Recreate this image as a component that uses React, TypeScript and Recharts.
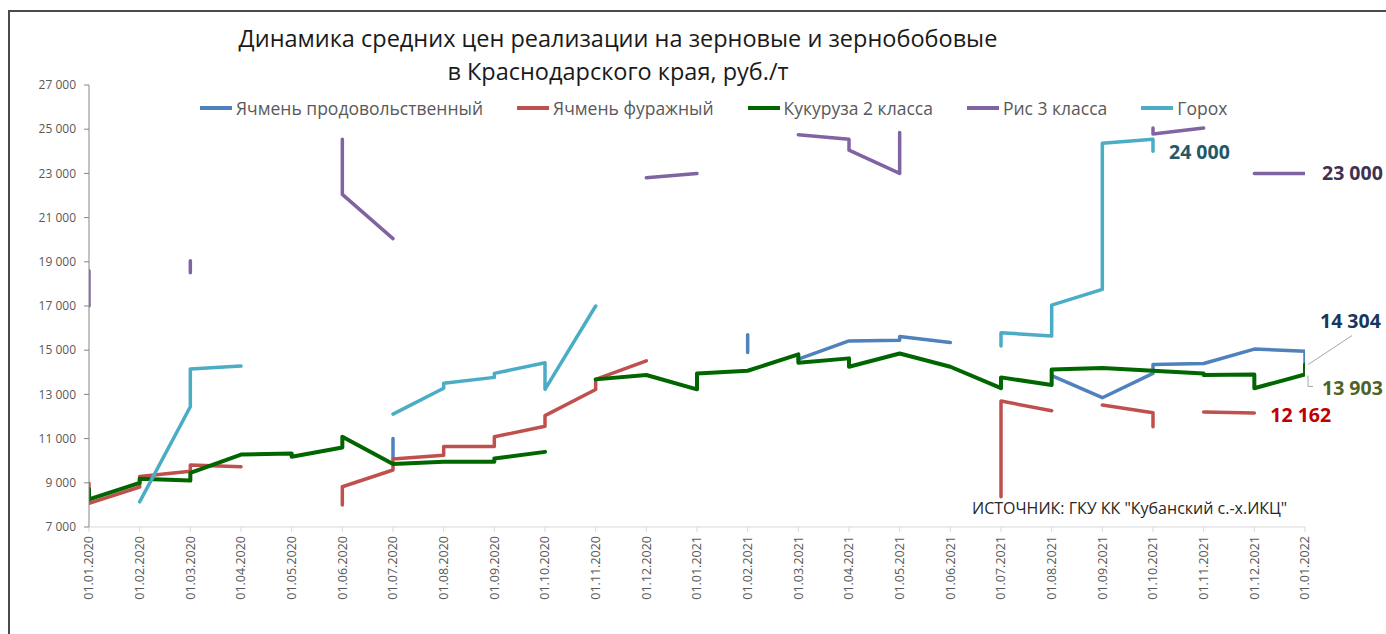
import React from 'react';
import { LineChart, Line, XAxis, YAxis } from 'recharts';

type Pt = [number, number | null];

// x = month index from 01.01.2020, several points in one month stack vertically
const MONTH_LABELS = [
  '01.01.2020', '01.02.2020', '01.03.2020', '01.04.2020', '01.05.2020', '01.06.2020',
  '01.07.2020', '01.08.2020', '01.09.2020', '01.10.2020', '01.11.2020', '01.12.2020',
  '01.01.2021', '01.02.2021', '01.03.2021', '01.04.2021', '01.05.2021', '01.06.2021',
  '01.07.2021', '01.08.2021', '01.09.2021', '01.10.2021', '01.11.2021', '01.12.2021',
  '01.01.2022',
];
const MONTH_TICKS = MONTH_LABELS.map((_, i) => i);
const Y_TICKS = [7000, 9000, 11000, 13000, 15000, 17000, 19000, 21000, 23000, 25000, 27000];

const barleyFood: Pt[] = [
  [6, 11000], [6, 10100], [6, null],
  [13, 15700], [13, 14900], [13, null],
  [14, 14600], [15, 15420], [16, 15450], [16, 15620], [17, 15350], [17, null],
  [19, 13850], [20, 12850], [21, 13950], [21, 14350], [22, 14400], [23, 15050], [24, 14950], [24, 14304],
];

const barleyFeed: Pt[] = [
  [0, 8980], [0, 8070], [1, 8810], [1, 9290], [2, 9520], [2, 9800], [3, 9730], [3, null],
  [5, 8000], [5, 8820], [6, 9580], [6, 10080], [7, 10250], [7, 10640], [8, 10640], [8, 11080],
  [9, 11560], [9, 12040], [10, 13220], [10, 13680], [11, 14520], [11, null],
  [18, 8370], [18, 12700], [19, 12260], [19, null],
  [20, 12520], [21, 12170], [21, 11540], [21, null],
  [22, 12200], [23, 12162],
];

const corn: Pt[] = [
  [0, 8720], [0, 8250], [1, 9000], [1, 9180], [2, 9100], [2, 9450], [3, 10280], [4, 10330], [4, 10180],
  [5, 10600], [5, 11080], [6, 9850], [7, 9950], [8, 9950], [8, 10100], [9, 10400], [9, null],
  [10, 13680], [11, 13880], [12, 13230], [12, 13950], [13, 14070], [14, 14810], [14, 14430],
  [15, 14630], [15, 14250], [16, 14850], [17, 14250], [18, 13280], [18, 13770], [19, 13430], [19, 14130],
  [20, 14200], [21, 14070], [22, 13950], [22, 13880], [23, 13900], [23, 13280],
  [24, 13903], [24, 14350], [24, 13903],
];

const rice: Pt[] = [
  [0, 18600], [0, 17000], [0, null],
  [2, 19050], [2, 18500], [2, null],
  [5, 24550], [5, 22050], [6, 20050], [6, null],
  [11, 22800], [12, 23000], [12, null],
  [14, 24750], [15, 24550], [15, 24050], [16, 23000], [16, 24850], [16, null],
  [21, 25050], [21, 24780], [22, 25050], [22, null],
  [23, 23000], [24, 23000],
];

const peas: Pt[] = [
  [1, 8140], [2, 12440], [2, 14150], [3, 14280], [3, null],
  [6, 12110], [7, 13280], [7, 13500], [8, 13770], [8, 13950], [9, 14430], [9, 13230], [10, 17000], [10, null],
  [18, 15190], [18, 15790], [19, 15640], [19, 17040], [20, 17750], [20, 24360], [21, 24540], [21, 24000],
];

const FONT = "'Open Sans', sans-serif";

const fmt = (v: number) => String(v).replace(/\B(?=(\d{3})+(?!\d))/g, ' ');

interface EndLabelCfg {
  color: string;
  dx: number;
  dy: number;
  leader?: 'up' | 'bracket';
}

const SERIES: { name: string; color: string; width: number; points: Pt[]; end: EndLabelCfg | null }[] = [
  { name: 'Ячмень продовольственный', color: '#4F81BD', width: 3.5, points: barleyFood, end: { color: '#17375E', dx: 15, dy: -44, leader: 'up' } },
  { name: 'Ячмень фуражный', color: '#C0504D', width: 3.5, points: barleyFeed, end: { color: '#C00000', dx: 16, dy: 2 } },
  { name: 'Кукуруза 2 класса', color: '#006600', width: 4, points: corn, end: { color: '#4F6228', dx: 17, dy: 14, leader: 'bracket' } },
  { name: 'Рис 3 класса', color: '#8064A2', width: 3.5, points: rice, end: { color: '#3F3151', dx: 17, dy: 0 } },
  { name: 'Горох', color: '#4BACC6', width: 3.5, points: peas, end: { color: '#215967', dx: 16, dy: 1 } },
];

function makeEndLabel(cfg: EndLabelCfg, last: number) {
  return (props: any) => {
    const { x, y, index, value } = props;
    if (index !== last || x == null || y == null || value == null) return null;
    return (
      <g key={`end-${index}`}>
        {cfg.leader === 'up' && (
          <line x1={x + 3} y1={y - 1} x2={x + 47} y2={y - 30} stroke="#A6A6A6" strokeWidth={1} />
        )}
        {cfg.leader === 'bracket' && (
          <polyline points={`${x + 3},${y + 1} ${x + 3},${y + 12} ${x + 8},${y + 12}`} fill="none" stroke="#A6A6A6" strokeWidth={1} />
        )}
        <text x={x + cfg.dx} y={y + cfg.dy} dy="0.35em" fill={cfg.color} fontSize={19.5} fontWeight="bold" fontFamily={FONT}>
          {fmt(Number(value))}
        </text>
      </g>
    );
  };
}

function MonthTick({ x, y, payload }: any) {
  return (
    <text
      x={x}
      y={y + 2}
      transform={`rotate(-90 ${x} ${y + 2})`}
      textAnchor="end"
      dy="0.35em"
      fill="#595959"
      fontSize={12.5}
      fontFamily={FONT}
    >
      {MONTH_LABELS[payload.value]}
    </text>
  );
}

export default function App() {
  return (
    <div style={{ position: 'absolute', left: 0, top: 0, width: 1386, height: 634, background: '#fff', overflow: 'hidden', fontFamily: FONT }}>
      <div style={{ position: 'absolute', left: 8, top: 10, width: 1400, height: 640, border: '2px solid #4a4a4a', boxSizing: 'border-box' }} />

      <div style={{ position: 'absolute', left: 0, width: 1236, top: 22, textAlign: 'center', fontSize: 23.5, lineHeight: '33px', color: '#1a1a1a' }}>
        Динамика средних цен реализации на зерновые и зернобобовые
        <br />в Краснодарского края, руб./т
      </div>

      <div style={{ position: 'absolute', left: 200, top: 96, display: 'flex', gap: 34, alignItems: 'center', fontSize: 17.5, color: '#595959', whiteSpace: 'nowrap' }}>
        {SERIES.map(s => (
          <div key={s.name} style={{ display: 'flex', alignItems: 'center' }}>
            <span style={{ display: 'inline-block', width: 32, height: 3.5, background: s.color, marginRight: 4 }} />
            <span>{s.name}</span>
          </div>
        ))}
      </div>

      <div style={{ position: 'absolute', left: 972, top: 497, fontSize: 16, color: '#262626', whiteSpace: 'nowrap' }}>
        ИСТОЧНИК: ГКУ КК "Кубанский с.-х.ИКЦ"
      </div>

      <div style={{ position: 'absolute', left: 0, top: 0 }}>
        <LineChart width={1386} height={634} margin={{ top: 85, right: 81, bottom: 0, left: 0 }}>
          <XAxis
            type="number"
            dataKey="m"
            domain={[0, 24]}
            ticks={MONTH_TICKS}
            interval={0}
            height={107}
            tick={<MonthTick />}
            tickSize={5}
            axisLine={{ stroke: '#D9D9D9' }}
            tickLine={{ stroke: '#D9D9D9' }}
            allowDataOverflow
          />
          <YAxis
            type="number"
            domain={[7000, 27000]}
            ticks={Y_TICKS}
            interval={0}
            width={89}
            tickSize={5}
            tickMargin={8}
            tickFormatter={fmt}
            tick={{ fill: '#595959', fontSize: 12, fontFamily: FONT }}
            axisLine={{ stroke: '#868686' }}
            tickLine={{ stroke: '#868686' }}
            allowDataOverflow
          />
          {SERIES.map(s => {
            const data = s.points.map(([m, v]) => ({ m, v }));
            return (
              <Line
                key={s.name}
                data={data}
                dataKey="v"
                name={s.name}
                type="linear"
                stroke={s.color}
                strokeWidth={s.width}
                strokeLinejoin="round"
                strokeLinecap="round"
                dot={false}
                activeDot={false}
                connectNulls={false}
                isAnimationActive={false}
                label={s.end ? makeEndLabel(s.end, data.length - 1) : false}
              />
            );
          })}
        </LineChart>
      </div>
    </div>
  );
}
